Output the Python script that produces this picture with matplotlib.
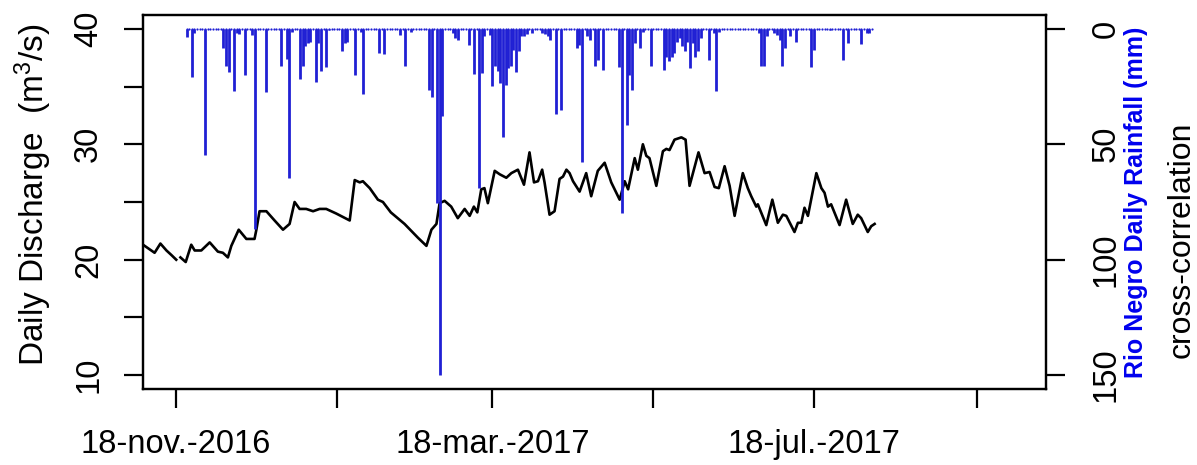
import numpy as np
import matplotlib
matplotlib.use("Agg")
import matplotlib.pyplot as plt
import matplotlib.dates as mdates

plt.rcParams['font.family'] = ['Liberation Sans', 'DejaVu Sans']
plt.rcParams['mathtext.fontset'] = 'custom'
plt.rcParams['mathtext.rm'] = 'Liberation Sans'
plt.rcParams['mathtext.it'] = 'Liberation Sans'

# ---------------- data ----------------
base_date = "2016-11-18"

# daily discharge (m3/s): day offset from base_date, value
q_days = [-12.5, -10.6, -8.1, -5.9, -3.6, -1.7, 0.1, 0.9, 1.7, 3.7, 5.8, 7.1, 9.6, 12.8,
          15.9, 17.8, 19.7, 21.0, 23.8, 26.7, 29.8, 30.5, 31.7, 34.3, 37.4, 40.6, 43.1,
          45.0, 46.9, 49.4, 52.0, 54.5, 57.0, 60.8, 65.9, 67.8, 69.7, 70.9, 73.5, 76.6,
          78.5, 81.5, 86.7, 91.8, 95.0, 96.9, 98.8, 100.0, 101.9, 104.4, 106.9, 109.5,
          111.4, 113.0, 114.3, 115.8, 117.0, 118.3, 120.9, 122.8, 125.3, 127.2, 129.7,
          132.0, 134.1, 135.8, 137.3, 138.9, 139.8, 141.7, 143.6, 145.5, 146.8, 148.1,
          149.3, 150.6, 153.1, 155.6, 157.5, 160.0, 162.6, 165.1, 168.3, 170.2, 171.5,
          174.0, 175.2, 177.1, 178.4, 179.6, 182.2, 184.7, 186.0, 187.2, 189.1, 191.7,
          193.3, 194.8, 198.2, 200.5, 202.4, 204.3, 205.9, 208.1, 210.0, 211.9, 215.0,
          216.9, 218.2, 220.1, 220.7, 223.9, 226.2, 228.3, 230.2, 231.5, 234.6, 235.9,
          237.2, 238.4, 239.7, 242.9, 244.8, 246.0, 247.3, 248.5, 251.7, 254.2, 256.7,
          258.6, 259.9, 262.4, 263.7, 265.0]
q_vals = [21.3, 21.0, 20.6, 21.4, 20.8, 20.4, 20.0, np.nan, 20.2, 19.8, 21.3, 20.8, 20.8, 21.5,
          20.7, 20.6, 20.2, 21.2, 22.6, 21.8, 21.8, 22.6, 24.2, 24.2, 23.4, 22.6, 23.1,
          25.0, 24.4, 24.4, 24.2, 24.4, 24.4, 24.0, 23.4, 26.9, 26.7, 26.8, 26.2, 25.2,
          25.0, 24.1, 23.1, 21.9, 21.2, 22.6, 23.1, 24.9, 25.1, 24.6, 23.6, 24.4,
          23.8, 24.6, 24.1, 26.1, 26.2, 24.9, 27.7, 27.4, 27.1, 27.5, 27.8,
          26.5, 29.3, 26.7, 26.8, 27.8, 26.7, 23.9, 24.2, 27.0, 27.2, 27.8,
          27.5, 26.8, 25.9, 27.5, 25.5, 27.7, 28.4, 26.7, 25.2, 26.8, 26.1,
          28.8, 27.8, 30.0, 29.0, 28.8, 26.4, 29.4, 29.6, 29.5, 30.4, 30.6,
          30.4, 26.4, 29.3, 27.5, 27.6, 26.3, 26.2, 28.1, 26.4, 23.8, 27.5,
          26.2, 25.5, 24.6, 24.8, 23.0, 25.2, 23.2, 23.9, 23.8, 22.4, 23.2,
          23.2, 24.5, 23.8, 27.5, 26.2, 25.8, 24.6, 24.8, 23.0, 25.2, 23.1,
          23.9, 23.6, 22.4, 22.9, 23.1]

# daily rainfall (mm): record covers rain_first..rain_last day offsets; other days are 0
rain_first, rain_last = 4, 264
rain_days = [4, 6, 7, 11, 18, 19, 20, 22, 23, 24, 26, 29, 30, 34, 40, 42, 43, 44, 47, 48,
             49, 50, 51, 53, 54, 55, 57, 58, 63, 64, 65, 68, 70, 71, 77, 79, 85, 87, 89,
             96, 97, 99, 100, 101, 105, 106, 107, 111, 113, 115, 116, 117, 119, 120, 121,
             122, 123, 124, 125, 126, 127, 128, 129, 130, 131, 132, 133, 135, 139, 140,
             141, 142, 144, 146, 152, 153, 154, 156, 157, 159, 160, 162, 168, 169, 171,
             172, 173, 174, 176, 177, 180, 185, 186, 187, 188, 189, 190, 191, 192, 193,
             194, 195, 196, 197, 198, 199, 202, 204, 205, 206, 221, 222, 223, 224, 227,
             228, 229, 230, 231, 233, 235, 241, 242, 248, 253, 255, 260, 262, 263]
rain_mm = [3.6, 20.9, 1.6, 54.5, 8.4, 16.3, 18.9, 27.1, 1.9, 2.2, 19.9, 2.6, 86.9, 27.5, 16.0,
           13.1, 64.6, 1.2, 21.8, 16.3, 7.3, 6.2, 5.5, 23.2, 6.2, 18.2, 16.6, 0.7, 9.4, 6.2,
           5.5, 19.9, 1.2, 28.1, 10.5, 10.8, 2.6, 16.0, 1.2, 26.4, 29.5, 75.4, 150.0,
           37.9, 1.9, 4.0, 4.8, 6.9, 19.6, 68.9, 19.2, 3.3, 2.6, 24.6, 16.3, 18.4, 23.5,
           47.0, 24.2, 17.0, 16.3, 9.1, 18.9, 9.8, 3.3, 3.3, 2.2, 1.9, 1.9, 2.2, 3.3, 4.8,
           36.7, 35.0, 8.4, 6.9, 57.8, 3.0, 4.8, 16.3, 13.4, 17.7, 16.6, 79.7, 41.5,
           19.9, 26.4, 6.2, 8.4, 1.2, 16.0, 17.7, 12.0, 14.1, 12.0, 10.5, 5.5, 4.0, 7.6,
           9.8, 5.5, 17.0, 6.2, 12.0, 9.8, 4.0, 13.4, 1.6, 26.8, 1.2, 1.9, 16.0, 16.0,
           3.3, 1.9, 2.6, 4.8, 16.3, 8.4, 3.3, 5.8, 16.6, 9.1, 0.7, 13.7, 6.2, 6.5, 1.9,
           1.6]

tick_dates = ["2016-11-18", "2017-01-18", "2017-03-18", "2017-05-18", "2017-07-18", "2017-09-18"]
tick_labels = ["18-nov.-2016", "", "18-mar.-2017", "", "18-jul.-2017", ""]
left_ticks = [10, 15, 20, 25, 30, 35, 40]
left_labels = ["10", "", "20", "", "30", "", "40"]
right_ticks = [0, 50, 100, 150]

# ---------------- plotting ----------------
b = mdates.datestr2num(base_date)
qx = b + np.array(q_days)
qy = np.array(q_vals, dtype=float)

all_days = np.arange(rain_first, rain_last + 1)
rain_full = np.zeros(len(all_days))
for d, v in zip(rain_days, rain_mm):
    rain_full[d - rain_first] = v
rx = b + all_days

fig = plt.figure(figsize=(11.97, 4.65), dpi=100)
ax = fig.add_axes([143/1197, 1 - 389/465, (1046-143)/1197, (389-15)/465])

ax.plot(qx, qy, color='black', lw=1.9, solid_joinstyle='round')
ax.set_ylim(8.8, 41.2)
ax.set_xlim(b - 12.5, b + 330)

ax.set_yticks(left_ticks)
ax.set_yticklabels(left_labels, rotation=90, va='center', ha='right')
tx = [mdates.datestr2num(t) for t in tick_dates]
ax.set_xticks(tx)
ax.set_xticklabels(tick_labels)
ax.tick_params(axis='both', direction='out', length=14, width=1.6, labelsize=23.5)
ax.tick_params(axis='x', pad=15)
ax.tick_params(axis='y', pad=14)
for s in ax.spines.values():
    s.set_linewidth(1.6)

ax2 = ax.twinx()
blue = '#2020d4'
ax2.vlines(rx, 0, rain_full, color=blue, lw=2.0)
ax2.plot(rx, np.zeros(len(rx)), ls='none', marker='o', ms=1.6, color=blue, mec='none')
ax2.set_ylim(156, -6)
ax2.set_yticks(right_ticks)
ax2.set_yticklabels([str(t) for t in right_ticks], rotation=90, va='center', ha='left')
ax2.tick_params(axis='y', direction='out', length=14, width=1.6, labelsize=23.5, pad=18)
for s in ax2.spines.values():
    s.set_linewidth(1.6)

fig.text(33/1197, 1 - 195/465, 'Daily Discharge  (m$^3$/s)', rotation=90,
         ha='center', va='center', fontsize=24)
fig.text(1136/1197, 1 - 202/465, 'Rio Negro Daily Rainfall (mm)', rotation=90,
         ha='center', va='center', fontsize=18, fontweight='bold', color='#0000ee')
fig.text(1182/1197, 1 - 240/465, 'cross-correlation', rotation=90,
         ha='center', va='center', fontsize=23)

fig.savefig('out.png', dpi=100)
